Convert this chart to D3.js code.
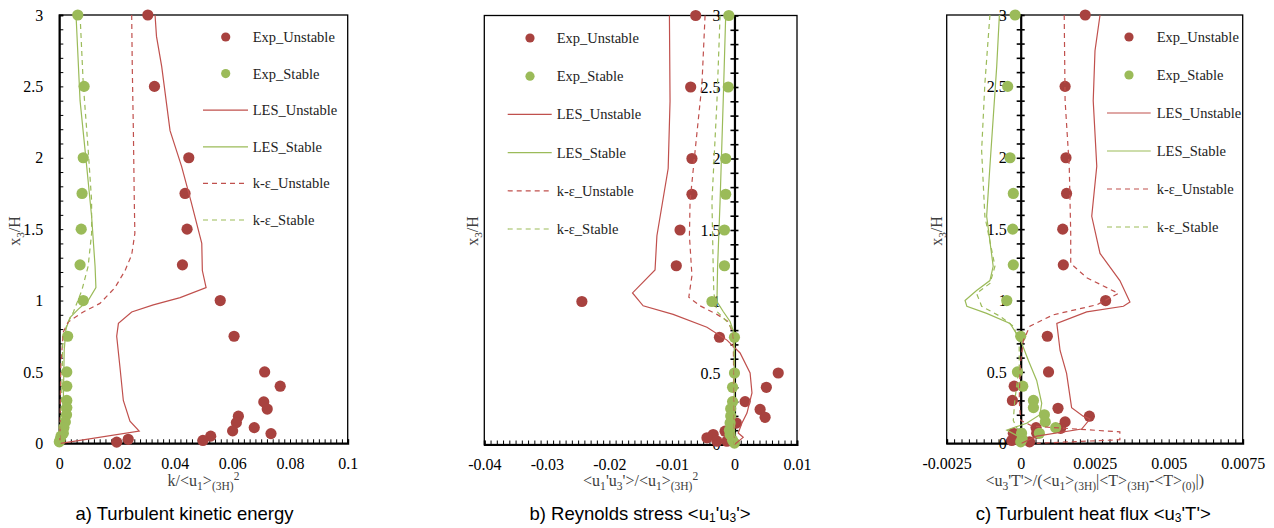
<!DOCTYPE html>
<html><head><meta charset="utf-8">
<script src="https://cdn.jsdelivr.net/npm/d3@7"></script>
<style>
html,body{margin:0;padding:0;background:#fff;}
svg{display:block;}
</style></head>
<body>
<svg id="chart" width="1274" height="528"></svg>
<script>
// ---------------- DATA ----------------
const yTicks = [0, 0.5, 1, 1.5, 2, 2.5, 3];
const aXTicks = [0, 0.02, 0.04, 0.06, 0.08, 0.1];
const bXTicks = [-0.04, -0.03, -0.02, -0.01, 0, 0.01];
const cXTicks = [-0.0025, 0, 0.0025, 0.005, 0.0075];
const seriesNames = ["Exp_Unstable", "Exp_Stable", "LES_Unstable", "LES_Stable", "k-\u03b5_Unstable", "k-\u03b5_Stable"];

// a) turbulent kinetic energy  [x, x3/H]
const aExpUnstable = [[0.0307,3.0],[0.033,2.5],[0.0449,2.0],[0.0436,1.75],[0.0443,1.5],[0.0427,1.25],[0.0558,1.0],[0.0606,0.75],[0.0712,0.5],[0.0766,0.4],[0.0709,0.29],[0.0721,0.24],[0.0621,0.19],[0.0614,0.145],[0.0676,0.11],[0.0601,0.087],[0.0734,0.068],[0.0525,0.05],[0.0498,0.02],[0.0239,0.028],[0.0199,0.008]];
const aExpStable = [[0.0064,3.0],[0.0086,2.5],[0.0083,2.0],[0.0079,1.75],[0.0076,1.5],[0.0072,1.25],[0.0083,1.0],[0.0029,0.75],[0.0026,0.5],[0.0026,0.4],[0.0026,0.3],[0.0026,0.25],[0.0025,0.2],[0.0021,0.15],[0.0016,0.11],[0.0014,0.07],[0.0006,0.05],[0.0003,0.025],[0.0,0.01]];
const aLesUnstable = [[0.0332,3],[0.0337,2.85],[0.0355,2.64],[0.0384,2.19],[0.0424,1.94],[0.0456,1.70],[0.0494,1.40],[0.0496,1.21],[0.0509,1.09],[0.0419,1.02],[0.0326,0.97],[0.0251,0.92],[0.0205,0.84],[0.0199,0.75],[0.021,0.54],[0.0222,0.30],[0.0245,0.155],[0.0277,0.085],[0.0005,0.0]];
const aKeUnstable = [[0.0251,3],[0.0253,2.64],[0.0257,2.17],[0.026,1.70],[0.0262,1.47],[0.0251,1.32],[0.0228,1.21],[0.0193,1.09],[0.0141,0.98],[0.0083,0.92],[0.0031,0.85],[0.0014,0.78],[0.0005,0.54],[0.0002,0]];
const aLesStable = [[0.0058,3],[0.0072,2.40],[0.0095,1.94],[0.0112,1.59],[0.0124,1.24],[0.0127,1.09],[0.01,1.0],[0.0066,0.94],[0.0037,0.88],[0.0023,0.80],[0.0017,0.65],[0.0014,0.30],[0.0008,0.07],[0,0]];
const aKeStable = [[0.0072,3],[0.0083,2.52],[0.01,2.06],[0.0112,1.70],[0.0112,1.47],[0.01,1.24],[0.0078,1.07],[0.0049,0.92],[0.0026,0.83],[0.0012,0.71],[0.0008,0.30],[0,0]];

// b) Reynolds stress
const bExpUnstable = [[-0.0062,3],[-0.0070,2.5],[-0.0068,2.0],[-0.0068,1.75],[-0.0087,1.5],[-0.0093,1.25],[-0.0244,1.0],[-0.0024,0.75],[0.0070,0.5],[0.0051,0.4],[0.0017,0.3],[0.0041,0.245],[0.0049,0.19],[0.0003,0.15],[-0.0015,0.093],[-0.0034,0.07],[-0.0044,0.047],[-0.0028,0.023],[-0.0012,0.023]];
const bExpStable = [[-0.0009,3],[-0.001,2.5],[-0.0014,2.0],[-0.0014,1.75],[-0.0016,1.5],[-0.0016,1.25],[-0.0036,1.0],[0,0.75],[0,0.5],[-0.0003,0.4],[-0.0003,0.3],[-0.0006,0.25],[-0.0006,0.2],[-0.0007,0.15],[-0.0008,0.1],[-0.0007,0.07],[-0.0003,0.03],[0,0.01]];
const bLesUnstable = [[-0.0104,3],[-0.0103,2.40],[-0.0106,1.93],[-0.0124,1.46],[-0.0127,1.22],[-0.0163,1.06],[-0.0146,0.97],[-0.0098,0.91],[-0.0044,0.82],[-0.0012,0.73],[0.0009,0.64],[0.0025,0.50],[0.0028,0.36],[0.002,0.22],[0.0012,0.15],[0.0006,0.08],[0.0014,0.05],[0,0]];
const bKeUnstable = [[-0.0047,3],[-0.0052,2.52],[-0.0063,2.05],[-0.0071,1.70],[-0.0072,1.46],[-0.0068,1.18],[-0.0073,1.03],[-0.0055,0.97],[-0.0028,0.91],[-0.001,0.86],[-0.0002,0.77],[0,0]];
const bLesStable = [[-0.0014,3],[-0.0018,2.40],[-0.0023,1.70],[-0.0027,1.24],[-0.0028,1.0],[-0.0018,0.93],[-0.0007,0.86],[0,0.77],[0,0]];
const bKeStable = [[-0.0023,3],[-0.0028,2.40],[-0.0036,1.70],[-0.0034,1.24],[-0.0033,1.06],[-0.0028,0.93],[-0.0012,0.86],[-0.0001,0.79],[0,0]];

// c) Turbulent heat flux
const cExpUnstable = [[0.00218,3],[0.0015,2.5],[0.00153,2.0],[0.00155,1.75],[0.00142,1.5],[0.00144,1.25],[0.00287,1.0],[0.0009,0.75],[0.00094,0.5],[-0.00022,0.4],[-0.00028,0.3],[0.00126,0.245],[0.00232,0.19],[0.0015,0.15],[0.00135,0.105],[0.00052,0.11],[0.00054,0.07],[-0.00025,0.07],[-0.0003,0.02],[0.0003,0.01]];
const cExpStable = [[-0.00019,3],[-0.00044,2.5],[-0.00036,2.0],[-0.00025,1.75],[-0.00027,1.5],[-0.00025,1.25],[-0.00047,1.0],[0,0.75],[-0.00011,0.5],[0.00007,0.4],[0.00043,0.3],[0.00043,0.25],[0.0008,0.2],[0.00083,0.15],[0.00118,0.11],[0.00063,0.07],[0.00003,0.07],[0.00005,0.03],[0,0.01]];
const cLesUnstable = [[0.00268,3],[0.00251,2.75],[0.00245,2.40],[0.00257,1.94],[0.0024,1.59],[0.00268,1.33],[0.00335,1.14],[0.00369,0.99],[0.00347,0.96],[0.00223,0.92],[0.00122,0.84],[0.00133,0.65],[0.00155,0.49],[0.00172,0.25],[0.00211,0.19],[0.00234,0.17],[0.00206,0.10],[0.00054,0.05],[0.00003,0]];
const cKeUnstable = [[0.00147,3],[0.0015,2.40],[0.00164,1.94],[0.00169,1.47],[0.00169,1.26],[0.00223,1.16],[0.0033,1.05],[0.00257,0.97],[0.0011,0.90],[0.00031,0.82],[0.00009,0.72],[-0.00002,0.54],[-0.00005,0.30],[0,0.16],[0.0004,0.12],[0.00335,0.08],[0.00335,0.025],[0.00054,0]];
const cLesStable = [[-0.00072,3],[-0.00081,2.64],[-0.00104,1.94],[-0.00115,1.59],[-0.00093,1.24],[-0.00104,1.14],[-0.00149,1.07],[-0.00188,1.0],[-0.00182,0.96],[-0.00115,0.91],[-0.00036,0.84],[0,0.72],[0.00026,0.58],[0.00054,0.44],[0.00071,0.28],[0.00065,0.20],[0.0002,0.14],[-0.00047,0.093],[-0.0001,0.05],[0,0]];
const cKeStable = [[-0.00104,3],[-0.00121,2.52],[-0.00132,2.05],[-0.00121,1.59],[-0.00087,1.24],[-0.00104,1.12],[-0.00149,1.05],[-0.00132,0.96],[-0.0007,0.89],[-0.00025,0.82],[-0.00005,0.72],[-0.00005,0.54],[-0.0002,0.30],[-0.00025,0.16],[-0.00005,0.07],[0,0]];

// ---------------- STYLE ----------------
const RED_M = "#A8423F", GREEN_M = "#9BBB59";
const RED_L = "#C0504D", GREEN_L = "#9BBB59";
const SERIF = "'Liberation Serif', 'Times New Roman', serif";
const SANS = "'Liberation Sans', Arial, sans-serif";

const svg = d3.select("#chart");

function rich(sel, parts, size, subShift, supShift, small) {
  let cur = 0;
  parts.forEach(([t, m]) => {
    const target = m === "sub" ? subShift : m === "sup" ? -supShift : 0;
    const ts = sel.append("tspan").text(t).attr("dy", target - cur);
    if (m !== "n") ts.style("font-size", (size * small) + "px");
    cur = target;
  });
}

const panels = [
  { x0: 59.3, x1: 347.7, yT: 15, yB: 443.3, xd: [0, 0.1], xt: aXTicks, minorStep: 0.002,
    axisAtZero: false,
    data: [aExpUnstable, aExpStable, aLesUnstable, aLesStable, aKeUnstable, aKeStable],
    leg: { lx0: 203, lx1: 248, mx: 225.7, tx: 252.7, y0: 37, dy: 36.6 },
    ytitleX: 20, xtitle: [["k/<u","n"],["1","sub"],[">","n"],["(3H)","sub"],["2","sup"]],
    caption: [["a) Turbulent kinetic energy","n"]], capX: 184.5 },
  { x0: 484.3, x1: 797, yT: 15.5, yB: 444.5, xd: [-0.04, 0.01], xt: bXTicks, minorStep: 0.001,
    axisAtZero: true,
    data: [bExpUnstable, bExpStable, bLesUnstable, bLesStable, bKeUnstable, bKeStable],
    leg: { lx0: 507.7, lx1: 551.7, mx: 530, tx: 556.7, y0: 38, dy: 38.2 },
    ytitleX: 478, xtitle: [["<u","n"],["1","sub"],["'u","n"],["3","sub"],["'>/<u","n"],["1","sub"],[">","n"],["(3H)","sub"],["2","sup"]],
    caption: [["b) Reynolds stress <u","n"],["1","sub"],["'u","n"],["3","sub"],["'>","n"]], capX: 640 },
  { x0: 946.7, x1: 1242.7, yT: 15, yB: 443.3, xd: [-0.0025, 0.0075], xt: cXTicks, minorStep: 0.00025,
    axisAtZero: true,
    data: [cExpUnstable, cExpStable, cLesUnstable, cLesStable, cKeUnstable, cKeStable],
    leg: { lx0: 1107, lx1: 1150.7, mx: 1129, tx: 1156.7, y0: 37, dy: 38 },
    ytitleX: 942, xtitle: [["<u","n"],["3","sub"],["'T'>/(<u","n"],["1","sub"],[">","n"],["(3H)","sub"],["|<T>","n"],["(3H)","sub"],["-<T>","n"],["(0)","sub"],["|)","n"]],
    caption: [["c) Turbulent heat flux <u","n"],["3","sub"],["'T'>","n"]], capX: 1093.3 }
];

const fmt = d => String(+d.toFixed(5));

panels.forEach(p => {
  const g = svg.append("g");
  const x = d3.scaleLinear().domain(p.xd).range([p.x0, p.x1]);
  const y = d3.scaleLinear().domain([0, 3]).range([p.yB, p.yT]);
  const n = Math.round((p.xd[1] - p.xd[0]) / p.minorStep);
  const minorX = d3.range(n + 1).map(i => p.xd[0] + i * p.minorStep);
  const minorY = d3.range(31).map(i => i * 0.1);

  // frame
  g.append("rect").attr("x", p.x0).attr("y", p.yT).attr("width", p.x1 - p.x0).attr("height", p.yB - p.yT)
    .attr("fill", "none").attr("stroke", "#000").attr("stroke-width", 1.3);

  // x minor ticks (inward)
  const xm = g.append("g").attr("transform", `translate(0,${p.yB})`)
    .call(d3.axisBottom(x).tickValues(minorX).tickSize(-4).tickFormat(""));
  xm.select(".domain").attr("stroke-width", 2);
  // x labels
  const xl = g.append("g").attr("transform", `translate(0,${p.yB})`)
    .call(d3.axisBottom(x).tickValues(p.xt).tickSize(0).tickPadding(14).tickFormat(fmt));
  xl.select(".domain").remove();
  xl.attr("font-family", null).attr("font-size", null);
  xl.selectAll("text").style("font-family", SERIF).style("font-size", "16px").attr("fill", "#000");

  // y axis
  const ax = p.axisAtZero ? x(0) : p.x0;
  if (!p.axisAtZero) {
    const ym = g.append("g").attr("transform", `translate(${ax},0)`)
      .call(d3.axisLeft(y).tickValues(minorY).tickSize(-4).tickFormat(""));
    ym.select(".domain").attr("stroke-width", 2);
  } else {
    const ym1 = g.append("g").attr("transform", `translate(${ax},0)`)
      .call(d3.axisLeft(y).tickValues(minorY).tickSize(4).tickFormat(""));
    ym1.select(".domain").attr("stroke-width", 2.2);
    const ym2 = g.append("g").attr("transform", `translate(${ax},0)`)
      .call(d3.axisRight(y).tickValues(minorY).tickSize(4).tickFormat(""));
    ym2.select(".domain").remove();
    ym1.selectAll(".tick line").attr("stroke-width", 1.6);
    ym2.selectAll(".tick line").attr("stroke-width", 1.6);
  }
  const yl = g.append("g").attr("transform", `translate(${ax},0)`)
    .call(d3.axisLeft(y).tickValues(yTicks).tickSize(0).tickPadding(p.axisAtZero ? 14 : 16).tickFormat(fmt));
  yl.select(".domain").remove();
  yl.attr("font-family", null).attr("font-size", null);
  yl.selectAll("text").style("font-family", SERIF).style("font-size", "16px").attr("fill", "#000");

  // markers
  const dots = [[p.data[0], RED_M], [p.data[1], GREEN_M]];
  dots.forEach(([d, c]) => {
    g.append("g").selectAll("circle").data(d).join("circle")
      .attr("cx", v => x(v[0])).attr("cy", v => y(v[1])).attr("r", 5.6).attr("fill", c);
  });
  // lines
  const line = d3.line().x(v => x(v[0])).y(v => y(v[1]));
  const lines = [[p.data[2], RED_L, null], [p.data[3], GREEN_L, null], [p.data[4], RED_L, "5,4"], [p.data[5], GREEN_L, "5,4"]];
  lines.forEach(([d, c, dash]) => {
    g.append("path").datum(d).attr("d", line).attr("fill", "none").attr("stroke", c)
      .attr("stroke-width", 1.2).attr("stroke-dasharray", dash);
  });

  // legend
  const L = p.leg;
  seriesNames.forEach((name, i) => {
    const yy = L.y0 + i * L.dy;
    if (i < 2) {
      g.append("circle").attr("cx", L.mx).attr("cy", yy).attr("r", 4.6).attr("fill", i === 0 ? RED_M : GREEN_M);
    } else {
      g.append("line").attr("x1", L.lx0).attr("x2", L.lx1).attr("y1", yy).attr("y2", yy)
        .attr("stroke", i % 2 === 0 ? RED_L : GREEN_L).attr("stroke-width", 1.2)
        .attr("stroke-dasharray", i >= 4 ? "5,4" : null);
    }
    g.append("text").attr("x", L.tx).attr("y", yy + 5).style("font-family", SERIF).style("font-size", "14.5px")
      .attr("fill", "#222").text(name);
  });

  // y title
  const yt = g.append("text").attr("transform", `translate(${p.ytitleX},231) rotate(-90)`)
    .attr("text-anchor", "middle").style("font-family", SERIF).style("font-size", "16px").attr("fill", "#404040");
  rich(yt, [["x","n"],["3","sub"],["/H","n"]], 16, 4, 5, 0.7);

  // x title
  const xt = g.append("text").attr("x", (p.x0 + p.x1) / 2).attr("y", 486)
    .attr("text-anchor", "middle").style("font-family", SERIF).style("font-size", "16px").attr("fill", "#404040");
  rich(xt, p.xtitle, 16, 4, 6, 0.72);

  // caption
  const cap = g.append("text").attr("x", p.capX).attr("y", 519.5)
    .attr("text-anchor", "middle").style("font-family", SANS).style("font-size", "18.5px").attr("fill", "#000");
  rich(cap, p.caption, 18.5, 2.5, 5, 0.65);
});
</script>
</body></html>
